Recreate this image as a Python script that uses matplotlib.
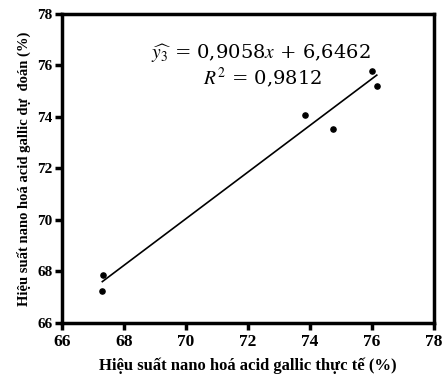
import matplotlib
matplotlib.use("Agg")
import matplotlib.pyplot as plt
import numpy as np

actual = [67.33, 67.30, 73.82, 74.73, 76.01, 76.15]
predicted = [67.86, 67.25, 74.09, 73.55, 75.79, 75.19]
slope = 0.9058
intercept = 6.6462
ticks = [66, 68, 70, 72, 74, 76, 78]
xlabel = "Hiệu suất nano hoá acid gallic thực tế (%)"
ylabel = "Hiệu suất nano hoá acid gallic dự  đoán (%)"

plt.rcParams['font.family'] = ['Liberation Serif', 'DejaVu Serif']
plt.rcParams['mathtext.fontset'] = 'stix'

fig = plt.figure(figsize=(4.43, 3.76), dpi=100)
ax = fig.add_axes([0.140, 0.141, 0.840, 0.822])

ax.scatter(actual, predicted, s=14, color='black', zorder=3)
xl = np.array([min(actual), max(actual)])
ax.plot(xl, slope * xl + intercept, color='black', lw=1.2)

ax.set_xlim(66, 78)
ax.set_ylim(66, 78)
ax.set_xticks(ticks)
ax.set_yticks(ticks)
for s in ax.spines.values():
    s.set_linewidth(2.5)
ax.tick_params(width=2.5, length=5, direction='out')
ax.tick_params(axis='x', labelsize=12.5, pad=3)
ax.tick_params(axis='y', labelsize=11, pad=2)
for lab in ax.get_xticklabels() + ax.get_yticklabels():
    lab.set_fontweight('bold')
ax.set_xlabel(xlabel, fontsize=12, fontweight='bold', labelpad=5)
ax.set_ylabel(ylabel, fontsize=10.5, fontweight='bold', labelpad=4)

ax.text(72.42, 76.45, r"$\widehat{y_3}$ = 0,9058$x$ + 6,6462", fontsize=14,
        family=['DejaVu Serif'], ha='center', va='center')
ax.text(72.45, 75.5, r"$R^2$ = 0,9812", fontsize=14,
        family=['DejaVu Serif'], ha='center', va='center')

fig.savefig("out.png", dpi=100)
